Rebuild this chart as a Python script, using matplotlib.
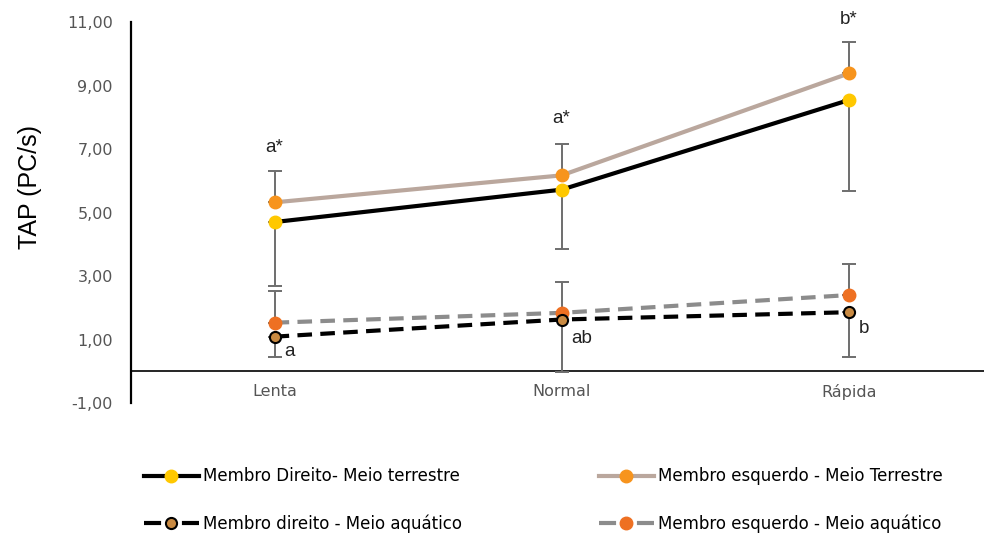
import numpy as np
import matplotlib
matplotlib.use("Agg")
import matplotlib.pyplot as plt
from matplotlib.ticker import FuncFormatter

# data
cats = ["Lenta", "Normal", "Rápida"]
dir_terr = [4.70, 5.72, 8.54]
esq_terr = [5.32, 6.17, 9.38]
dir_aqua = [1.09, 1.63, 1.86]
esq_aqua = [1.53, 1.84, 2.40]

# error bars: upper for the "esquerdo" series, lower for the "direito" ones
esq_terr_err = [1.00, 1.00, 1.00]
dir_terr_err = [2.00, 1.86, 2.87]
esq_aqua_err = [0.99, 0.97, 0.99]
dir_aqua_err = [0.65, 1.66, 1.42]

sig_top = ["a*", "a*", "b*"]
sig_bot = ["a", "ab", "b"]
sig_top_y = [7.06, 7.97, 11.09]
sig_bot_y = [0.63, 1.03, 1.35]

x = np.arange(len(cats))

plt.rcParams['font.family'] = ['Liberation Sans', 'DejaVu Sans']

fig = plt.figure(figsize=(9.89, 5.37), dpi=100)
ax = fig.add_axes([0.1325, 0.2495, 0.862, 0.7095])

ecol = "#6e6e6e"
zero = np.zeros(3)
ax.errorbar(x, esq_terr, yerr=[zero, esq_terr_err], fmt="none", ecolor=ecol,
            elinewidth=1.4, capsize=5, capthick=1.4, zorder=2)
ax.errorbar(x, dir_terr, yerr=[dir_terr_err, zero], fmt="none", ecolor=ecol,
            elinewidth=1.4, capsize=5, capthick=1.4, zorder=2)
ax.errorbar(x, esq_aqua, yerr=[zero, esq_aqua_err], fmt="none", ecolor=ecol,
            elinewidth=1.4, capsize=5, capthick=1.4, zorder=2)
ax.errorbar(x, dir_aqua, yerr=[dir_aqua_err, zero], fmt="none", ecolor=ecol,
            elinewidth=1.4, capsize=5, capthick=1.4, zorder=2)

l1, = ax.plot(x, dir_terr, color="black", lw=3, marker="o", ms=9,
              mfc="#FFC800", mec="#FFC800", zorder=4,
              label="Membro Direito- Meio terrestre")
l2, = ax.plot(x, esq_terr, color="#baa79d", lw=3, marker="o", ms=9,
              mfc="#F7941D", mec="#F7941D", zorder=3,
              label="Membro esquerdo - Meio Terrestre")
l3, = ax.plot(x, dir_aqua, color="black", lw=3, ls=(0, (3.5, 2)), marker="o", ms=8,
              mfc="#C98A42", mec="black", mew=1.5, zorder=4,
              label="Membro direito - Meio aquático")
l4, = ax.plot(x, esq_aqua, color="#8c8c8c", lw=3, ls=(0, (3.5, 2)), marker="o", ms=9,
              mfc="#EE7022", mec="#EE7022", zorder=3,
              label="Membro esquerdo - Meio aquático")

# legend proxies for the dashed series: dash - marker - dash
p3, = ax.plot([], [], color="black", lw=3, ls=(0, (4.1, 5.0)), marker="o", ms=8,
              mfc="#C98A42", mec="black", mew=1.5, label=l3.get_label())
p4, = ax.plot([], [], color="#8c8c8c", lw=3, ls=(0, (4.1, 5.0)), marker="o", ms=9,
              mfc="#EE7022", mec="#EE7022", label=l4.get_label())

for i in range(3):
    ax.text(x[i], sig_top_y[i], sig_top[i], ha="center", va="center",
            fontsize=13.5, color="#222222", clip_on=False)
    ax.text(x[i] + 0.035, sig_bot_y[i], sig_bot[i], ha="left", va="center",
            fontsize=13.5, color="#222222")

ax.axhline(0, color="black", lw=1.2, zorder=1)
ax.set_xlim(-0.5, 2.47)
ax.set_ylim(-1, 11)
ax.set_yticks(np.arange(-1, 12, 2))
ax.yaxis.set_major_formatter(FuncFormatter(lambda v, p: f"{v:.2f}".replace(".", ",")))
ax.set_xticks(x)
ax.set_xticklabels(cats)
ax.tick_params(axis="both", length=0, labelsize=11.5, colors="#555555")
for lab in ax.get_xticklabels() + ax.get_yticklabels():
    lab.set_family(["DejaVu Sans"])
ax.tick_params(axis="x", pad=-14)
ax.tick_params(axis="y", pad=13)
for s in ["top", "right", "bottom"]:
    ax.spines[s].set_visible(False)
ax.spines["left"].set_linewidth(1.6)
ax.set_ylabel("TAP (PC/s)", fontsize=18)
ax.yaxis.set_label_coords(-0.104, 0.567)

leg_kw = dict(frameon=False, prop={"family": "DejaVu Sans", "size": 12},
              handlelength=3.3, handletextpad=0.24, labelspacing=1.72,
              borderaxespad=0)
fig.legend(handles=[l1, p3], loc="upper left",
           bbox_to_anchor=(0.1385, 0.142), **leg_kw)
fig.legend(handles=[l2, p4], loc="upper left",
           bbox_to_anchor=(0.5986, 0.142), **leg_kw)

fig.savefig("out.png", dpi=100)
